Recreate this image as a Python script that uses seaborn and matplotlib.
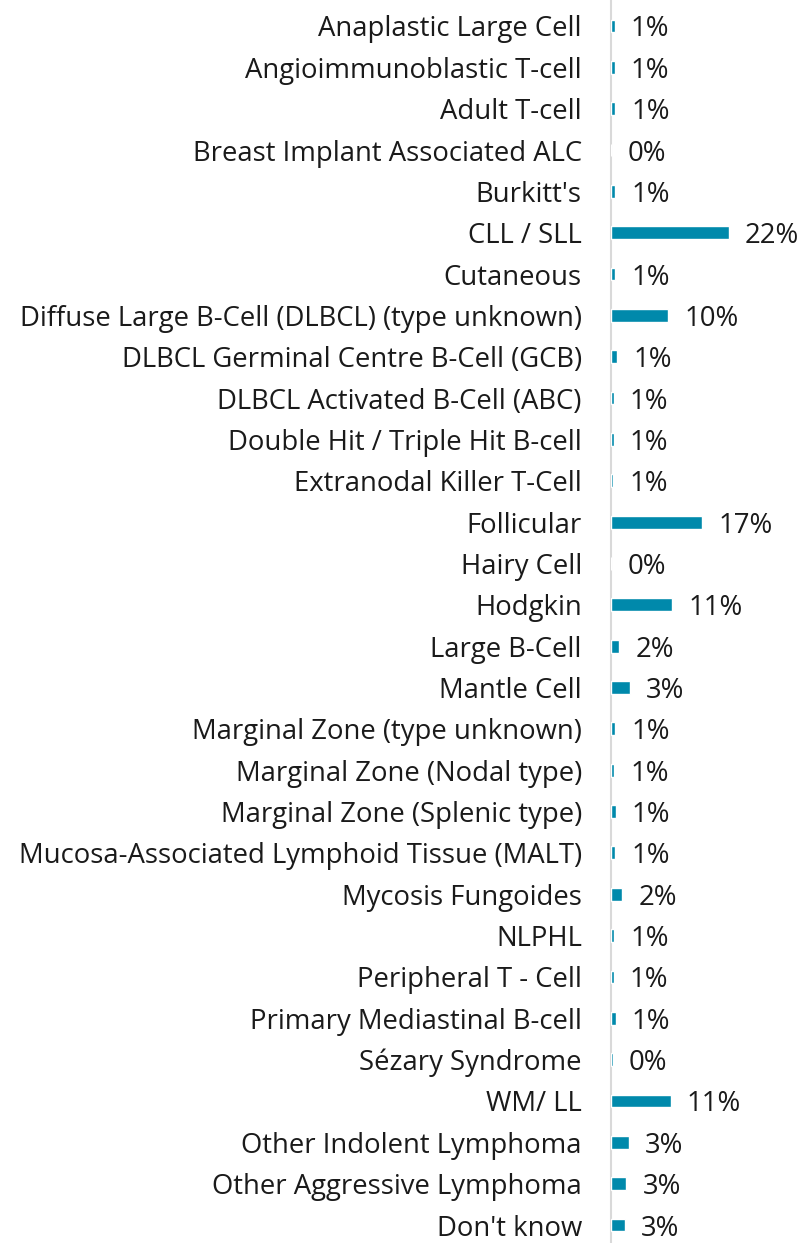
import matplotlib
matplotlib.use("Agg")
import matplotlib.pyplot as plt
import seaborn as sns
import pandas as pd

categories = [
    "Anaplastic Large Cell", "Angioimmunoblastic T-cell", "Adult T-cell",
    "Breast Implant Associated ALC", "Burkitt's", "CLL / SLL", "Cutaneous",
    "Diffuse Large B-Cell (DLBCL) (type unknown)",
    "DLBCL Germinal Centre B-Cell (GCB)", "DLBCL Activated B-Cell (ABC)",
    "Double Hit / Triple Hit B-cell", "Extranodal Killer T-Cell", "Follicular",
    "Hairy Cell", "Hodgkin", "Large B-Cell", "Mantle Cell",
    "Marginal Zone (type unknown)", "Marginal Zone (Nodal type)",
    "Marginal Zone (Splenic type)",
    "Mucosa-Associated Lymphoid Tissue (MALT)", "Mycosis Fungoides", "NLPHL",
    "Peripheral T - Cell", "Primary Mediastinal B-cell", "Sézary Syndrome",
    "WM/ LL", "Other Indolent Lymphoma", "Other Aggressive Lymphoma",
    "Don't know",
]
values = [0.6, 0.6, 0.75, 0.0, 0.7, 22.0, 0.75, 10.6, 1.1, 0.4, 0.4, 0.35,
          17.0, 0.0, 11.4, 1.5, 3.4, 0.75, 0.5, 0.8, 0.75, 2.0, 0.5, 0.4,
          0.8, 0.25, 11.1, 3.3, 2.8, 2.5]
labels = ["1%", "1%", "1%", "0%", "1%", "22%", "1%", "10%", "1%", "1%", "1%",
          "1%", "17%", "0%", "11%", "2%", "3%", "1%", "1%", "1%", "1%", "2%",
          "1%", "1%", "1%", "0%", "11%", "3%", "3%", "3%"]

df = pd.DataFrame({"cat": categories, "val": values})

sns.set_style("white")
plt.rcParams["font.family"] = ["Open Sans", "DejaVu Sans"]

W, H = 804, 1243
fig = plt.figure(figsize=(W / 100, H / 100), dpi=100)
ax = fig.add_axes([611 / W, 0, 193 / W, 1])

sns.barplot(data=df, y="cat", x="val", orient="h", color="#0089ab",
            saturation=1, width=0.31, ax=ax, zorder=3)

n = len(categories)
step = 41.4
ax.set_xlim(-0.08, 36)
ax.set_ylim(n - 1 + (H - 1225) / step, -26 / step)

for i, (v, lab) in enumerate(zip(values, labels)):
    ax.annotate(lab, xy=(v, i), xytext=(16, 0), textcoords="offset pixels",
                ha="left", va="center_baseline", fontsize=19.8,
                color="#1a1a1a")

ax.set_xlabel("")
ax.set_ylabel("")
ax.set_xticks([])
ax.tick_params(axis="y", length=0, pad=21, labelsize=19.8,
               labelcolor="#1a1a1a")
for s in ["top", "right", "bottom"]:
    ax.spines[s].set_visible(False)
ax.spines["left"].set_color("#d9d9d9")
ax.spines["left"].set_linewidth(1.5)
ax.spines["left"].set_zorder(1)

fig.savefig("out.png", dpi=100)
